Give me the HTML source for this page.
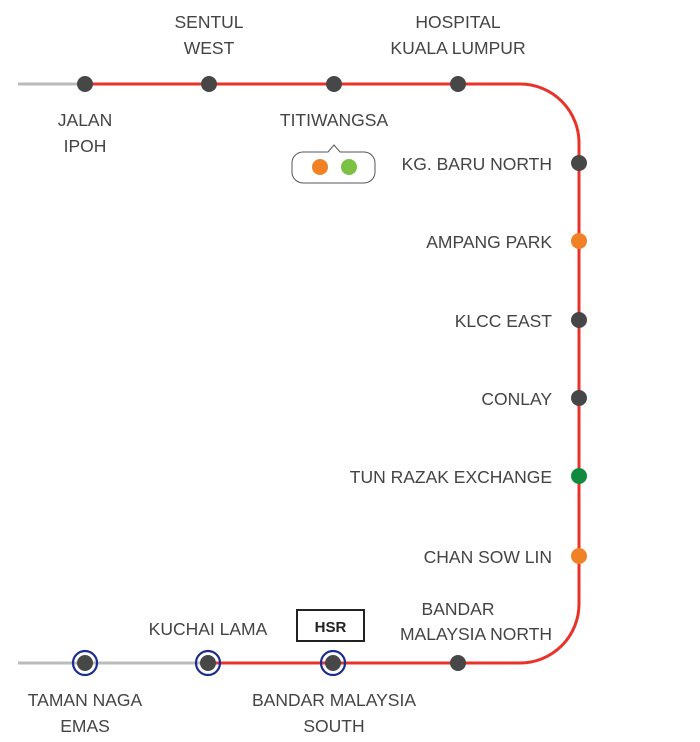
<!DOCTYPE html>
<html><head><meta charset="utf-8"><style>
html,body{margin:0;padding:0;background:#fff;}
svg text{font-family:"Liberation Sans",sans-serif;font-size:17.5px;fill:#444;}
</style></head><body>
<svg width="700" height="737" viewBox="0 0 700 737" xmlns="http://www.w3.org/2000/svg">
<g fill="none" stroke-width="3">
<line x1="18" y1="84" x2="85" y2="84" stroke="#bbb"/>
<path d="M85 84 H520 A59 59 0 0 1 579 143 V604 A59 59 0 0 1 520 663 H208" stroke="#e8322a"/>
<line x1="18" y1="663" x2="208" y2="663" stroke="#bbb"/>
</g>
<g fill="#474747">
<circle cx="85" cy="84" r="8"/><circle cx="209" cy="84" r="8"/><circle cx="334" cy="84" r="8"/><circle cx="458" cy="84" r="8"/>
<circle cx="579" cy="163" r="8"/><circle cx="579" cy="320" r="8"/><circle cx="579" cy="398" r="8"/>
<circle cx="458" cy="663" r="8"/>
<circle cx="85" cy="663" r="8"/><circle cx="208" cy="663" r="8"/><circle cx="333" cy="663" r="8"/>
</g>
<circle cx="579" cy="241" r="8" fill="#f08125"/>
<circle cx="579" cy="476" r="8" fill="#0f8a3f"/>
<circle cx="579" cy="556" r="8" fill="#f08125"/>
<g fill="none" stroke="#1a2d8f" stroke-width="2.2">
<circle cx="85" cy="663" r="12"/><circle cx="208" cy="663" r="12"/><circle cx="333" cy="663" r="12"/>
</g>
<path d="M304 152 H328 L334 145 L340 152 H364 A11 11 0 0 1 375 163 V172 A11 11 0 0 1 364 183 H303 A11 11 0 0 1 292 172 V163 A11 11 0 0 1 304 152 Z" fill="#fff" stroke="#555" stroke-width="1"/>
<circle cx="320" cy="167" r="8" fill="#f08125"/>
<circle cx="349" cy="167" r="8" fill="#7cc242"/>
<rect x="297" y="610" width="67" height="31" fill="#fff" stroke="#222" stroke-width="2"/>
<text x="330.5" y="632" text-anchor="middle" style="font-weight:bold;font-size:15px;fill:#222">HSR</text>
<g text-anchor="middle">
<text x="85" y="126">JALAN</text><text x="85" y="152">IPOH</text>
<text x="209" y="28">SENTUL</text><text x="209" y="54">WEST</text>
<text x="458" y="28">HOSPITAL</text><text x="458" y="54">KUALA LUMPUR</text>
<text x="334" y="126">TITIWANGSA</text>
<text x="208" y="635">KUCHAI LAMA</text>
<text x="458" y="615">BANDAR</text><text x="476" y="640">MALAYSIA NORTH</text>
<text x="85" y="706">TAMAN NAGA</text><text x="85" y="732">EMAS</text>
<text x="334" y="706">BANDAR MALAYSIA</text><text x="334" y="732">SOUTH</text>
</g>
<g text-anchor="end">
<text x="552" y="170">KG. BARU NORTH</text>
<text x="552" y="248">AMPANG PARK</text>
<text x="552" y="327">KLCC EAST</text>
<text x="552" y="405">CONLAY</text>
<text x="552" y="483">TUN RAZAK EXCHANGE</text>
<text x="552" y="563">CHAN SOW LIN</text>
</g>
</svg>
</body></html>
